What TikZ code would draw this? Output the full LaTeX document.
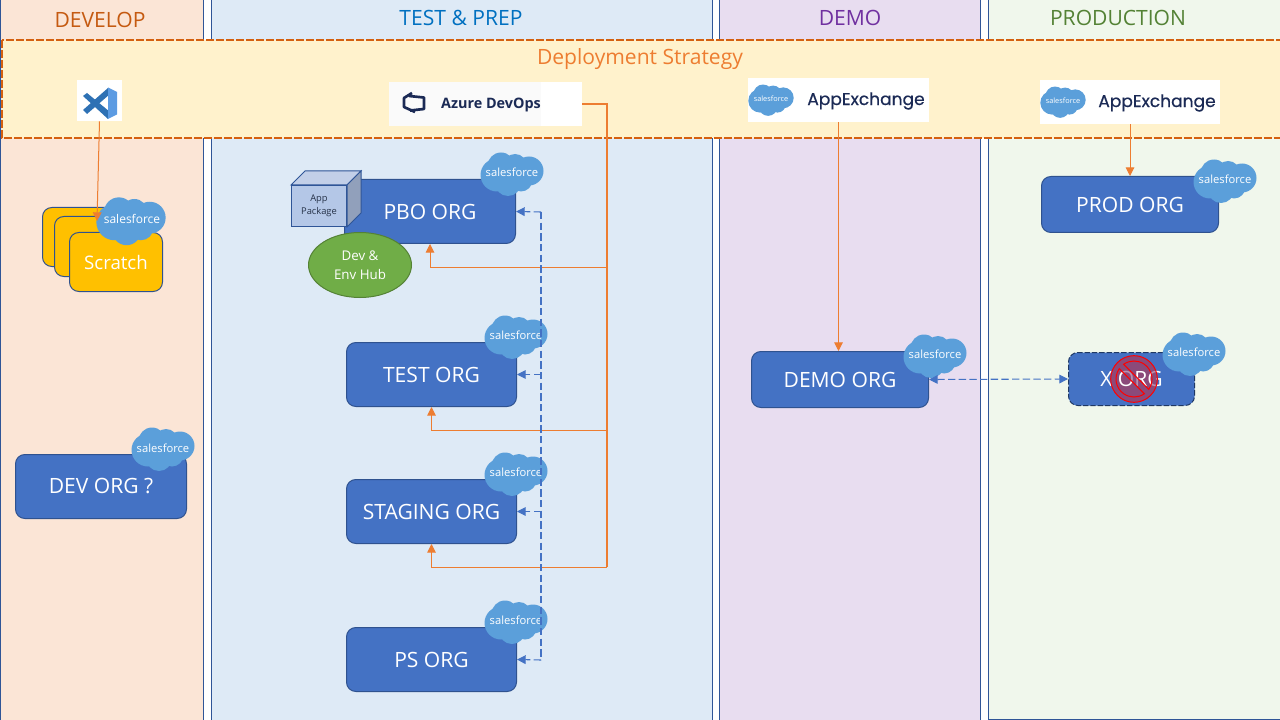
\documentclass[tikz,border=0pt]{standalone}
\usepackage{fontspec}
\setmainfont{Open Sans}
\newfontfamily\logofont[FakeBold=0.5]{Poppins}
\usetikzlibrary{arrows.meta,calc,shapes.geometric}
\definecolor{laneline}{HTML}{2F5597}
\definecolor{orgblue}{HTML}{4472C4}
\definecolor{orgline}{HTML}{2F528F}
\definecolor{orangeln}{HTML}{ED7D31}
\definecolor{darkor}{HTML}{D4600F}
\definecolor{headdev}{HTML}{C55A11}
\definecolor{cloudblue}{HTML}{5B9FDA}
\definecolor{navy}{HTML}{1B2A55}
\definecolor{lanedev}{HTML}{FBE5D6}
\definecolor{lanetest}{HTML}{DEEAF6}
\definecolor{lanedemo}{HTML}{E8DDF0}
\definecolor{laneprod}{HTML}{F0F7EC}
\definecolor{bandfill}{HTML}{FFF2CC}
\definecolor{headtest}{HTML}{0070C0}
\definecolor{headdemo}{HTML}{7030A0}
\definecolor{headprod}{HTML}{548235}
\definecolor{vsdark}{HTML}{2E71B4}
\definecolor{vslight}{HTML}{5C9BE2}
\definecolor{azbg}{HTML}{FAFAFA}
\definecolor{scratchy}{HTML}{FFC000}
\definecolor{xline}{HTML}{1F3864}
\definecolor{cubetop}{HTML}{C2CFE8}
\definecolor{cubeside}{HTML}{91A0BB}
\definecolor{cubefront}{HTML}{B4C7E7}
\definecolor{cubetext}{HTML}{263248}
\definecolor{hubfill}{HTML}{70AD47}
\definecolor{hubline}{HTML}{548235}
\definecolor{nopurple}{HTML}{8B4A7A}
\newcommand{\Low}[1]{\raisebox{-0.8pt}{#1}}
\tikzset{
  x=0.75pt,y=-0.75pt,
  lane/.style={draw=laneline,line width=0.75pt},
  head/.style={font=\fontsize{15.8}{18}\selectfont},
  orgbox/.style 2 args={draw=orgline,line width=0.75pt,fill=orgblue,rounded corners=7pt,text=white,
    minimum width=(#1-1)*0.75pt,minimum height=(#2-1)*0.75pt,inner sep=0pt,font=\fontsize{15.8}{18}\selectfont},
  logobox/.style 2 args={fill=white,minimum width=#1*0.75pt,minimum height=#2*0.75pt,inner sep=0pt},
  cloudtext/.style={text=white,inner sep=0pt,font=\fontsize{8.4}{10}\selectfont},
  orangearrow/.style={draw=orangeln,line width=0.75pt,-{Triangle[length=6.5pt,width=6.5pt]}},
  orangeline/.style={draw=orangeln,line width=1pt},
  bluedash/.style={draw=orgblue,line width=0.8pt,dash pattern=on 5.5pt off 2.5pt},
  bluearrow/.style={bluedash,-{Triangle[length=6.5pt,width=6.5pt]}},
}
\newcommand{\sfcloud}[3]{%
  \begin{scope}[shift={(#1,#2)},scale=#3]
    \fill[cloudblue] (-15,1) circle[radius=16.5] (-11,-8) circle[radius=13.5] (3,-8) circle[radius=12]
      (17,-3) circle[radius=14.5] (-4,9) circle[radius=13] (9,6) circle[radius=11.5];
  \end{scope}
}
\begin{document}
\begin{tikzpicture}
\useasboundingbox (0,0) rectangle (1280,720);
\fill[white] (0,0) rectangle (1280,720);
% lanes
\filldraw[lane,fill=lanedev] (0.5,-2) rectangle (203,722);
\filldraw[lane,fill=lanetest] (211,-2) rectangle (712.5,722);
\filldraw[lane,fill=lanedemo] (719,-2) rectangle (980.5,722);
\filldraw[lane,fill=laneprod] (988,-2) rectangle (1285,719);
\node[head,text=headdev] (hdev) at (100,20) {\Low{DEVELOP}};
\node[head,text=headtest] (htest) at (461,18) {\Low{TEST \& PREP}};
\node[head,text=headdemo] (hdemo) at (850,18) {\Low{DEMO}};
\node[head,text=headprod] (hprod) at (1118,18) {\Low{PRODUCTION}};
% band
\filldraw[draw=darkor,line width=0.9pt,fill=bandfill,dash pattern=on 6pt off 1.5pt] (2,40) rectangle (1285,138);
\node[head,text=orangeln] (hstrat) at (640,59) {\Low{Deployment Strategy}};
% logos
\node[logobox={45}{41}] (vs) at (99.5,100.5) {};
\fill[vsdark] (83,96) -- (87,93) -- (110,112) -- (108,119) -- cycle;
\fill[vsdark] (83,110) -- (87,114) -- (110,94) -- (108,88) -- cycle;
\fill[vslight] (108,87.5) -- (117,92) -- (117,114.5) -- (108,119) -- cycle;
\node[logobox={193}{44}] (azure) at (485.5,104) {};
\fill[azbg] (389,82) rectangle (541,126);
\draw[navy,line width=2pt,line join=round] (412,93) -- (404,98) -- (404,107) -- (415,112);
\draw[navy,line width=2pt,line join=round] (409,96) -- (424,97.5) -- (424,109) -- (410,110.5);
\node[text=navy,inner sep=0pt,font=\fontsize{10.8}{12}\selectfont\bfseries] (azuretxt) at (491,105) {Azure DevOps};
\node[logobox={181}{44}] (appa) at (838.5,100) {};
\sfcloud{771}{100}{0.72}
\node[cloudtext,font=\fontsize{5.5}{6}\selectfont] (appac) at (771,99) {salesforce};
\node[text=navy,inner sep=0pt,font=\logofont\fontsize{12.8}{14}\selectfont] (appat) at (866,101) {AppExchange};
\node[logobox={180}{44}] (appb) at (1130,102) {};
\sfcloud{1063}{102}{0.72}
\node[cloudtext,font=\fontsize{5.5}{6}\selectfont] (appbc) at (1063,101) {salesforce};
\node[text=navy,inner sep=0pt,font=\logofont\fontsize{12.8}{14}\selectfont] (appbt) at (1157,103) {AppExchange};
% scratch
\node[orgbox={94}{60},fill=scratchy] (sc1) at (89,237) {};
\node[orgbox={94}{61},fill=scratchy] (sc2) at (101,246.5) {};
\node[orgbox={94}{60},fill=scratchy,font=\fontsize{14}{17}\selectfont] (scratch) at (116,262) {\Low{Scratch}};
% orgs
\node[orgbox={172}{65}] (dev) at (101,486.5) {\Low{DEV ORG ?}};
\node[orgbox={172}{65}] (pbo) at (430,211.5) {\Low{PBO ORG}};
\node[orgbox={171}{65}] (test) at (431.5,374.5) {\Low{TEST ORG}};
\node[orgbox={171}{65}] (staging) at (431.5,511.5) {\Low{STAGING ORG}};
\node[orgbox={171}{65}] (ps) at (431.5,659.5) {\Low{PS ORG}};
\node[orgbox={178}{57}] (prod) at (1130,204.5) {\Low{PROD ORG}};
\node[orgbox={178}{57}] (demo) at (840,379.5) {\Low{DEMO ORG}};
\node[orgbox={127}{54},dash pattern=on 4pt off 1.5pt,draw=xline] (xorg) at (1131.5,379) {};
% app package cube
\filldraw[draw=laneline,line width=0.75pt,fill=cubetop] (291,185) -- (305,171) -- (361,171) -- (347,185) -- cycle;
\filldraw[draw=laneline,line width=0.75pt,fill=cubeside] (347,185) -- (361,171) -- (361,213) -- (347,227) -- cycle;
\node[draw=laneline,line width=0.75pt,fill=cubefront,minimum width=55*0.75pt,minimum height=41*0.75pt,inner sep=0pt,
  align=center,text=cubetext,font=\fontsize{7}{9.5}\selectfont] (pkg) at (319,206) {App\\Package};
\node[ellipse,draw=hubline,line width=0.75pt,fill=hubfill,minimum width=103*0.75pt,minimum height=65*0.75pt,inner sep=0pt,
  align=center,text=white,font=\fontsize{10}{14}\selectfont] (hub) at (360,265) {Dev \&\\Env Hub};
% clouds
\sfcloud{512}{174}{1}
\node[cloudtext] (cpbo) at (512,172) {salesforce};
\sfcloud{516}{337}{1}
\node[cloudtext] (ctest) at (516,335) {salesforce};
\sfcloud{516}{474}{1}
\node[cloudtext] (cstag) at (516,472) {salesforce};
\sfcloud{516}{622}{1}
\node[cloudtext] (cps) at (516,620) {salesforce};
\sfcloud{163}{449}{1}
\node[cloudtext] (cdev) at (163,448) {salesforce};
\sfcloud{131}{221}{1.1}
\node[cloudtext,font=\fontsize{9}{10}\selectfont] (csc) at (132,219) {salesforce};
\sfcloud{1225}{181}{1}
\node[cloudtext] (cprod) at (1225,179) {salesforce};
\sfcloud{935}{356}{1}
\node[cloudtext] (cdemo) at (935,354) {salesforce};
\sfcloud{1194}{354}{1}
\node[cloudtext] (cx) at (1194,352) {salesforce};
% forbidden sign: tinted disc under the label, ring and bar over it
\fill[nopurple] (1134,379) circle[radius=23.3];
\node[text=white,inner sep=0pt,font=\fontsize{15.8}{18}\selectfont] (xlabel) at (xorg.center) {\Low{X ORG}};
\begin{scope}[shift={(1134,379)},x=1pt,y=1pt,rotate=-45]
  \path[fill=nopurple,fill opacity=0.6,even odd rule] (0,0) circle[radius=17.5]
     (10:13.5) arc[start angle=10,end angle=170,radius=13.5] -- cycle
     (190:13.5) arc[start angle=190,end angle=350,radius=13.5] -- cycle;
  \draw[red,line width=0.75pt] (0,0) circle[radius=17.5]
     (10:13.5) arc[start angle=10,end angle=170,radius=13.5] -- cycle
     (190:13.5) arc[start angle=190,end angle=350,radius=13.5] -- cycle;
\end{scope}
% connectors
\coordinate (bus) at (607,104);
\coordinate (busp) at (607,267);
\coordinate (bust) at (607,430);
\coordinate (buss) at (607,567);
\draw[orangeline] (azure.east) -- (bus) -- (buss);
\draw[orangearrow] (busp) -| (pbo.south);
\draw[orangearrow] (bust) -| (test.south);
\draw[orangearrow] (buss) -| (staging.south);
\coordinate (scratchtip) at (97,221);
\draw[orangearrow] (vs.south) -- (scratchtip);
\draw[orangearrow] (appa.south) -- (demo.north -| appa.south);
\draw[orangearrow] (appb.south) -- (appb.south |- prod.north);
\coordinate (dasht) at (541,212);
\coordinate (dashb) at (541,660);
\draw[bluedash] (dasht) -- (dashb);
\draw[bluearrow] (dasht) -- (pbo.east);
\draw[bluearrow] (dasht |- test.east) -- (test.east);
\draw[bluearrow] (dasht |- staging.east) -- (staging.east);
\draw[bluearrow] (dashb) -- (ps.east);
\draw[bluedash,{Triangle[length=6.5pt,width=6.5pt]}-{Triangle[length=6.5pt,width=6.5pt]}] (demo.east) -- (xorg.west);
\end{tikzpicture}
\end{document}
